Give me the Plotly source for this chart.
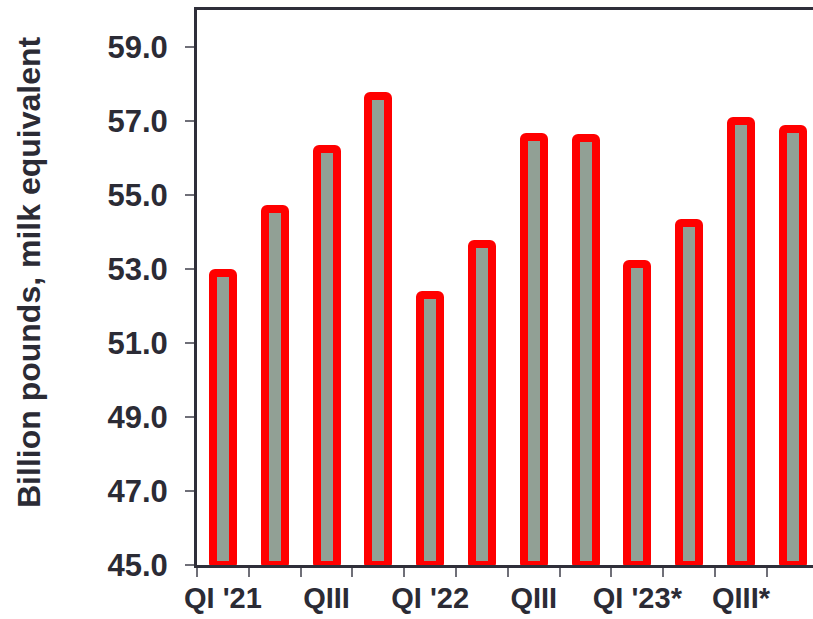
import plotly.graph_objects as go

# Quarterly totals, billion pounds milk equivalent
quarters = ["QI '21", "QII", "QIII", "QIV",
            "QI '22", "QII", "QIII", "QIV",
            "QI '23*", "QII*", "QIII*", "QIV*"]
values = [52.88, 54.62, 56.25, 57.68,
          52.30, 53.67, 56.57, 56.55,
          53.13, 54.23, 57.01, 56.79]

y_ticks = [45, 47, 49, 51, 53, 55, 57, 59]
baseline = 45

positions = list(range(len(quarters)))
label_positions = positions[::2]
label_text = quarters[::2]
boundaries = [p - 0.5 for p in positions]

FONT = "Liberation Sans, Arial, sans-serif"
TEXT = "#2b2b35"
AXIS = "#2f2f3a"
TICK = "#6f6f78"

fig = go.Figure()
# bar heights are measured from the 45.0 baseline
fig.add_trace(go.Bar(
    x=positions,
    y=[v - baseline for v in values],
    base=baseline,
    width=0.386,
    marker=dict(color="#91A095", line=dict(color="#FF0000", width=8),
                cornerradius=2),
    customdata=values,
    hovertemplate="%{customdata:.1f}<extra></extra>",
))

fig.update_layout(
    width=813, height=619,
    margin=dict(l=197, r=0, t=10, b=54),
    plot_bgcolor="white", paper_bgcolor="white",
    showlegend=False,
    bargap=0,
    font=dict(family=FONT, color=TEXT),
)

fig.update_xaxes(
    range=[-0.5, 11.39],
    tickmode="array", tickvals=label_positions, ticktext=label_text,
    ticks="", ticklabelstandoff=5,
    tickfont=dict(family=FONT, size=29, color=TEXT, weight="bold"),
    showline=True, linecolor=AXIS, linewidth=3, mirror=True,
    showgrid=False, zeroline=False,
    minor=dict(tickmode="array", tickvals=boundaries, ticks="outside",
               ticklen=9, tickwidth=1.5, tickcolor=TICK, showgrid=False),
)

fig.update_yaxes(
    range=[45, 60],
    tickmode="array", tickvals=y_ticks, ticktext=[f"{v:.1f}" for v in y_ticks],
    ticks="outside", ticklen=9, tickwidth=1.5, tickcolor=TICK,
    ticklabelstandoff=11,
    tickfont=dict(family=FONT, size=31, color=TEXT, weight="bold"),
    showline=True, linecolor=AXIS, linewidth=3,
    showgrid=False, zeroline=False,
)

fig.add_annotation(
    text="Billion pounds, milk equivalent",
    xref="paper", yref="paper", x=-168 / 616, y=(565 - 272) / 555,
    xanchor="center", yanchor="middle", textangle=-90, showarrow=False,
    font=dict(family=FONT, size=32, color=TEXT, weight="bold"),
)

fig.write_html("out.html")
